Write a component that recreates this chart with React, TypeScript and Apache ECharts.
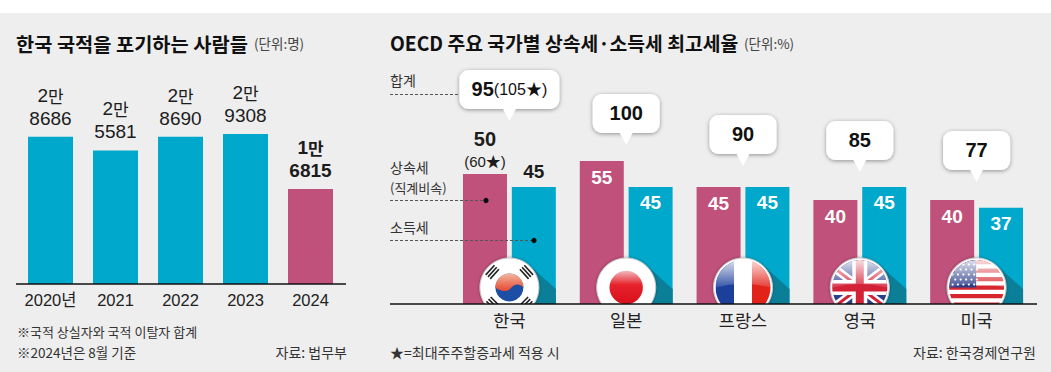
import React, { useEffect, useRef } from "react";
import * as echarts from "echarts";

const years = ["2020년", "2021", "2022", "2023", "2024"];
const renounced = [28686, 25581, 28690, 29308, 16815];
const countries = ["한국", "일본", "프랑스", "영국", "미국"];
const inheritanceTax = [50, 55, 45, 40, 40];
const incomeTax = [45, 45, 45, 45, 37];
const totals = [95, 100, 90, 85, 77];
const BG = "#eeeeee";
const TEAL = "#00a8cb";
const PINK = "#c0517a";
const INK = "#1c1c1c";
const KR = '"Noto Sans CJK KR", sans-serif';
const NARROW = '"Liberation Sans", "Noto Sans CJK KR", sans-serif';
const leftAxisFloor = 4771;
const leftAxisMax = 52026;
const calloutLift = [53, 16, 21, 15, 18];
const calloutNote = ["(105★)", "", "", "", ""];
const leftBarColor = (i: number) => (i === 4 ? PINK : TEAL);

const lg = (stops: [number, string][]) =>
  new echarts.graphic.LinearGradient(0, 0, 0, 1, stops.map(([offset, color]) => ({ offset, color })));

const gloss = (r: number) => ({
  type: "path",
  shape: { pathData: `M ${-r} 0 A ${r} ${r} 0 0 1 ${r} 0 Q 0 ${-r * 0.25} ${-r} 0 Z` },
  style: { fill: lg([[0, "rgba(255,255,255,0.85)"], [1, "rgba(255,255,255,0.12)"]]) },
});

function trigram(angle: number, gaps: number[]) {
  return gaps.map((d) => ({
    type: "rect",
    x: 0, y: 0, rotation: angle,
    shape: { x: -6.5, y: -d - 0.8, width: 13, height: 1.6 },
    style: { fill: "#222" },
  }));
}

function flagArt(i: number): any[] {
  const R = 27.5;
  const inner = (children: any[]) => ({
    type: "group",
    clipPath: { type: "circle", shape: { cx: 0, cy: 0, r: R } },
    children,
  });
  if (i === 0) {
    return [
      ...trigram(Math.PI / 4 + 0.05, [20, 23, 26]),
      ...trigram(-Math.PI / 4 - 0.05, [20, 23, 26]),
      ...trigram((3 * Math.PI) / 4, [20, 23, 26]),
      ...trigram((-3 * Math.PI) / 4, [20, 23, 26]),
      { type: "circle", shape: { cx: 0, cy: 0, r: 14 }, style: { fill: "#1d4ea6" } },
      {
        type: "path",
        shape: { pathData: "M -14 0 A 14 14 0 0 1 14 0 C 9 -5 5 -3 1 1 C -3 5 -9 4 -14 0 Z" },
        style: { fill: lg([[0, "#f3b7a0"], [1, "#e4472f"]]) },
      },
    ];
  }
  if (i === 1) {
    return [{ type: "circle", shape: { cx: 0, cy: 0, r: 16.7 }, style: { fill: lg([[0, "#f0b9bd"], [0.42, "#e6222c"], [1, "#d80f1c"]]) } }];
  }
  if (i === 2) {
    return [
      inner([
        { type: "rect", shape: { x: -R, y: -R, width: 19, height: 2 * R }, style: { fill: "#1c3f9c" } },
        { type: "rect", shape: { x: -9, y: -R, width: 18, height: 2 * R }, style: { fill: "#ffffff" } },
        { type: "rect", shape: { x: 9, y: -R, width: 19, height: 2 * R }, style: { fill: "#e2231a" } },
        gloss(R),
      ]),
    ];
  }
  if (i === 3) {
    const bar = (rot: number, w: number, fill: string) => ({
      type: "rect", x: 0, y: 0, rotation: rot,
      shape: { x: -40, y: -w / 2, width: 80, height: w }, style: { fill },
    });
    return [
      inner([
        { type: "rect", shape: { x: -R, y: -R, width: 2 * R, height: 2 * R }, style: { fill: "#2c3f8e" } },
        bar(0.65, 8, "#ffffff"), bar(-0.65, 8, "#ffffff"),
        bar(0.65, 3, "#d32238"), bar(-0.65, 3, "#d32238"),
        bar(0, 15, "#ffffff"), bar(Math.PI / 2, 15, "#ffffff"),
        bar(0, 8, "#d32238"), bar(Math.PI / 2, 8, "#d32238"),
        gloss(R),
      ]),
    ];
  }
  const stripes: any[] = [];
  for (let s = 0; s < 13; s += 2) {
    stripes.push({ type: "rect", shape: { x: -R, y: -R + s * 4.25, width: 2 * R, height: 4.25 }, style: { fill: "#d8262f" } });
  }
  const stars: any[] = [];
  for (let r = 0; r < 5; r++) {
    for (let c = 0; c < 5; c++) {
      stars.push({ type: "circle", shape: { cx: -24 + c * 5.4 + (r % 2 ? 2.7 : 0), cy: -23 + r * 5, r: 1.1 }, style: { fill: "#ffffff" } });
    }
  }
  return [
    inner([
      { type: "rect", shape: { x: -R, y: -R, width: 2 * R, height: 2 * R }, style: { fill: "#ffffff" } },
      ...stripes,
      { type: "rect", shape: { x: -R, y: -R, width: 27, height: R }, style: { fill: "#2a3a86" } },
      ...stars,
      gloss(R),
    ]),
  ];
}

const text = (x: number, y: number, t: string, fontSize: number, extra: any = {}) => ({
  type: "text",
  x, y, z: 50,
  style: { text: t, fontSize, fontFamily: KR, fill: INK, verticalAlign: "middle", ...extra },
});
const rule = (x1: number, x2: number, y: number, lineWidth: number, dash?: number[]) => ({
  type: "line", z: 40,
  shape: { x1, y1: y, x2, y2: y },
  style: { stroke: dash ? "#555" : "#111", lineWidth, lineDash: dash },
});
const dot = (cx: number, cy: number) => ({
  type: "circle", z: 60, shape: { cx, cy, r: 2.6 }, style: { fill: "#0a0a0a" },
});

export default function App() {
  const ref = useRef<HTMLDivElement>(null);
  useEffect(() => {
    const chart = echarts.init(ref.current!, null, { renderer: "svg" });
    const bigDigits = { fontSize: 19, fontFamily: NARROW, color: INK };
    chart.setOption({
      animation: false,
      backgroundColor: "#ffffff",
      grid: [
        { left: 18, width: 325, top: 34, height: 250 },
        { left: 451, width: 584, top: 44, height: 260 },
      ],
      xAxis: [
        {
          gridIndex: 0, type: "category", data: years,
          axisLine: { show: false }, axisTick: { show: false },
          axisLabel: { margin: 8, fontSize: 16.5, fontFamily: NARROW, color: "#222", interval: 0 },
        },
        {
          gridIndex: 1, type: "category", data: countries,
          axisLine: { show: false }, axisTick: { show: false },
          axisLabel: { margin: 7, fontSize: 17.5, fontFamily: KR, color: "#222", interval: 0 },
        },
      ],
      yAxis: [
        { gridIndex: 0, type: "value", show: false, min: -leftAxisFloor, max: leftAxisMax },
        { gridIndex: 1, type: "value", show: false, min: 0, max: 100 },
      ],
      graphic: [
        { type: "rect", z: -10, shape: { x: 0, y: 13, width: 1051, height: 359 }, style: { fill: BG } },
        text(16, 43, "한국 국적을 포기하는 사람들", 19.8, { fontWeight: 700, fill: "#111" }),
        text(254, 43, "(단위:명)", 13.5, { fill: "#444" }),
        text(390, 43, "OECD 주요 국가별 상속세·소득세 최고세율", 19.3, { fontWeight: 700, fill: "#111" }),
        text(744, 43, "(단위:%)", 13.5, { fill: "#444" }),
        rule(16, 346, 284, 1.5),
        rule(390, 1037, 304, 1.5),
        text(390, 80, "합계", 14, { fill: "#333" }),
        text(390, 167, "상속세", 14, { fill: "#333" }),
        text(390, 187, "(직계비속)", 13, { fill: "#333" }),
        text(390, 227, "소득세", 14, { fill: "#333" }),
        rule(390, 459, 94.5, 1, [3, 2]),
        rule(390, 486, 200.5, 1, [3, 2]),
        rule(390, 534, 240.5, 1, [3, 2]),
        dot(486, 200.5),
        dot(534, 240.5),
        text(17, 331, "※국적 상실자와 국적 이탈자 합계", 13, { fill: "#333" }),
        text(17, 352, "※2024년은 8월 기준", 13.5, { fill: "#333" }),
        text(347, 352, "자료: 법무부", 14, { fill: "#333", align: "right" }),
        text(390, 352, "★=최대주주할증과세 적용 시", 14, { fill: "#333" }),
        text(1036, 352, "자료: 한국경제연구원", 14, { fill: "#333", align: "right" }),
      ],
      series: [
        {
          type: "bar", xAxisIndex: 0, yAxisIndex: 0, barWidth: 45,
          data: renounced.map((v, i) => ({ value: v, itemStyle: { color: leftBarColor(i) } })),
          label: {
            show: true, position: "top", distance: 7,
            formatter: (p: any) => {
              const v = p.value as number;
              const bold = p.dataIndex === 4 ? "B" : "";
              return `{n${bold}|${Math.floor(v / 10000)}}{h${bold}|만}\n{n${bold}|${v % 10000}}`;
            },
            rich: {
              n: { ...bigDigits, lineHeight: 23 },
              h: { fontSize: 17, fontFamily: KR, color: INK, lineHeight: 23 },
              nB: { ...bigDigits, fontWeight: 700, lineHeight: 23 },
              hB: { fontSize: 17, fontFamily: KR, fontWeight: 700, color: INK, lineHeight: 23 },
            },
          },
        },
        {
          // the reference's bars stand on a truncated-below-zero baseline: extend each bar to the axis floor
          type: "custom", xAxisIndex: 0, yAxisIndex: 0, z: 3, silent: true,
          data: renounced.map((v, i) => [i, v]),
          encode: { x: 0, y: 1 },
          renderItem: (_: any, api: any) => {
            const i = api.value(0) as number;
            const [x, yTop] = api.coord([i, 2000]);
            const [, yBottom] = api.coord([i, -leftAxisFloor]);
            return {
              type: "rect",
              shape: { x: x - 22.5, y: yTop, width: 45, height: yBottom - yTop },
              style: { fill: leftBarColor(i) },
            };
          },
        },
        {
          type: "bar", xAxisIndex: 1, yAxisIndex: 1, barWidth: 44, barGap: "11%",
          data: inheritanceTax.map((v, i) =>
            i === 0
              ? {
                  value: v,
                  label: {
                    position: "top", distance: 3, color: INK,
                    formatter: `{a|${v}}\n{b|(60★)}`,
                    rich: {
                      a: { fontSize: 20, fontWeight: 700, fontFamily: NARROW, color: INK, lineHeight: 24 },
                      b: { fontSize: 15, fontWeight: 400, fontFamily: NARROW, color: INK, lineHeight: 20 },
                    },
                  },
                }
              : v
          ),
          itemStyle: { color: PINK },
          label: { show: true, position: "insideTop", distance: 7, color: "#fff", fontSize: 19, fontWeight: 700, fontFamily: NARROW },
        },
        {
          type: "bar", xAxisIndex: 1, yAxisIndex: 1, barWidth: 44, barGap: "11%",
          data: incomeTax.map((v, i) =>
            i === 0 ? { value: v, label: { position: "top", distance: 6, color: INK } } : v
          ),
          itemStyle: { color: TEAL },
          label: { show: true, position: "insideTop", distance: 6, color: "#fff", fontSize: 19, fontWeight: 700, fontFamily: NARROW },
        },
        {
          type: "custom", xAxisIndex: 1, yAxisIndex: 1, z: 5, silent: true,
          data: countries.map((_, i) => [i, 0]),
          encode: { x: 0, y: 1 },
          renderItem: (_: any, api: any) => {
            const i = api.value(0) as number;
            const [x, base] = api.coord([i, 0]);
            const cy = base - 16.5;
            return {
              type: "group",
              children: [
                {
                  type: "polygon",
                  shape: { points: [[x + 22, base - 37], [x + 46.5, base - 15], [x + 46.5, base], [x + 2.5, base]] },
                  style: { fill: "#0b7f98" },
                },
                {
                  type: "group", x, y: cy,
                  clipPath: { type: "rect", shape: { x: -40, y: -40, width: 80, height: 56.5 } },
                  children: [
                    { type: "circle", shape: { cx: 0, cy: 0, r: 29.5 }, style: { fill: "#ffffff", stroke: "#c9c9c9", lineWidth: 1, shadowBlur: 3, shadowColor: "rgba(0,0,0,0.35)" } },
                    ...flagArt(i),
                  ],
                },
              ],
            };
          },
        },
        {
          type: "custom", xAxisIndex: 1, yAxisIndex: 1, z: 6, silent: true,
          data: totals.map((t, i) => [i, t]),
          encode: { x: 0, y: 1 },
          renderItem: (_: any, api: any) => {
            const i = api.value(0) as number;
            const t = api.value(1) as number;
            const top = Math.max(inheritanceTax[i], incomeTax[i]);
            const [cx, barTop] = api.coord([i, top]);
            const tip = barTop - calloutLift[i];
            const note = calloutNote[i];
            const w = note ? 100 : 67;
            const left = cx - w / 2;
            const bodyBottom = tip - 12;
            const bodyTop = bodyBottom - 39;
            return {
              type: "group",
              children: [
                {
                  type: "rect",
                  shape: { x: left, y: bodyTop, width: w, height: 39, r: 9 },
                  style: { fill: "#fff", shadowBlur: 4, shadowOffsetY: 1, shadowColor: "rgba(0,0,0,0.4)" },
                },
                {
                  type: "polygon",
                  shape: { points: [[cx - 7, bodyBottom - 1], [cx + 7, bodyBottom - 1], [cx, tip]] },
                  style: { fill: "#fff" },
                },
                {
                  type: "text",
                  x: cx, y: bodyTop + 19,
                  style: {
                    text: note ? `{a|${t}}{b|${note}}` : `{a|${t}}`,
                    align: "center", verticalAlign: "middle",
                    fontFamily: NARROW,
                    rich: {
                      a: { fontSize: 20, fontWeight: 700, fontFamily: NARROW, fill: "#111" },
                      b: { fontSize: 16, fontWeight: 400, fontFamily: NARROW, fill: "#111" },
                    },
                  },
                },
              ],
            };
          },
        },
      ],
    });
    return () => chart.dispose();
  }, []);
  return <div ref={ref} style={{ position: "absolute", left: 0, top: 0, width: 1051, height: 372 }} />;
}
